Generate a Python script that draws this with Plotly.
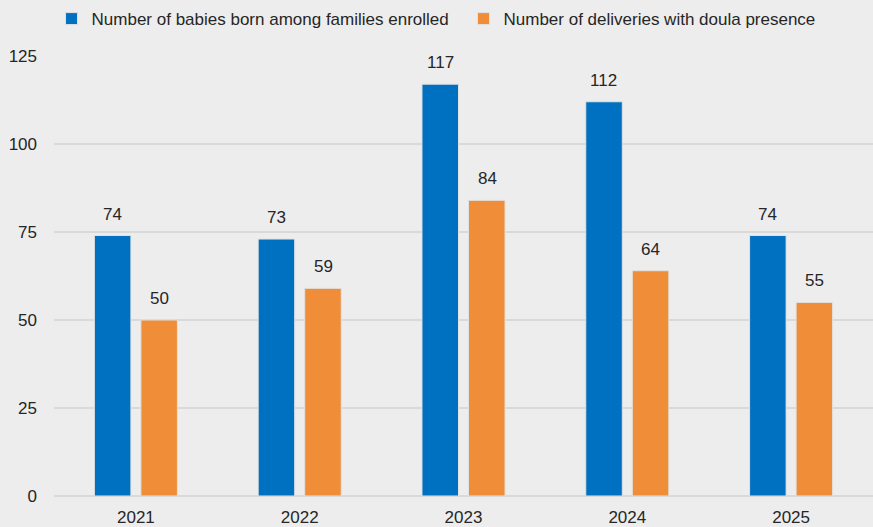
import plotly.graph_objects as go

years = ["2021", "2022", "2023", "2024", "2025"]
babies = [74, 73, 117, 112, 74]
doula = [50, 59, 84, 64, 55]
y_ticks = [0, 25, 50, 75, 100, 125]

BLUE = "#0070C0"
ORANGE = "#EF8D38"
BG = "#EDEDED"
GRID = "#D9D9D9"
TXT = "#262626"
FONT = "Liberation Sans, Arial, sans-serif"
FS = 17

fig = go.Figure()
fig.add_trace(go.Bar(
    x=years, y=babies, name="Number of babies born among families enrolled",
    marker=dict(color=BLUE, line=dict(color="#E2E2E2", width=1)),
    legend="legend",
))
fig.add_trace(go.Bar(
    x=years, y=doula, name="Number of deliveries with doula presence",
    marker=dict(color=ORANGE, line=dict(color="#E2E2E2", width=1)),
    legend="legend2",
))

annotations = []
for series, shift in ((babies, -23.5), (doula, 23.5)):
    for i, v in enumerate(series):
        annotations.append(dict(
            x=i, y=v, xref="x", yref="y", text=str(v), showarrow=False,
            xshift=shift, yshift=10, yanchor="bottom", xanchor="center",
            font=dict(size=FS, color=TXT, family=FONT),
        ))

leg_common = dict(orientation="h", xanchor="left", y=0.998, yanchor="top",
                  yref="container", font=dict(size=FS, color=TXT, family=FONT),
                  bgcolor="rgba(0,0,0,0)")

fig.update_layout(
    width=873, height=527,
    margin=dict(l=54, r=0, t=56, b=31, autoexpand=False),
    paper_bgcolor=BG, plot_bgcolor=BG,
    font=dict(family=FONT, size=FS, color=TXT),
    barmode="group", bargap=0.432, bargroupgap=0.215,
    showlegend=True,
    legend=dict(x=-0.003, **leg_common),
    legend2=dict(x=0.5, **leg_common),
    xaxis=dict(type="category", range=[-0.5, len(years) - 0.5], showgrid=False,
               showline=False, ticks="outside", ticklen=6, tickcolor=BG,
               tickfont=dict(size=FS)),
    yaxis=dict(range=[0, 125], tickvals=y_ticks, showgrid=True, gridcolor=GRID,
               gridwidth=1.5, zeroline=True, zerolinecolor=GRID, zerolinewidth=1.5,
               ticks="", ticklabelstandoff=16, tickfont=dict(size=FS)),
    annotations=annotations,
)

fig.write_html("out.html")
